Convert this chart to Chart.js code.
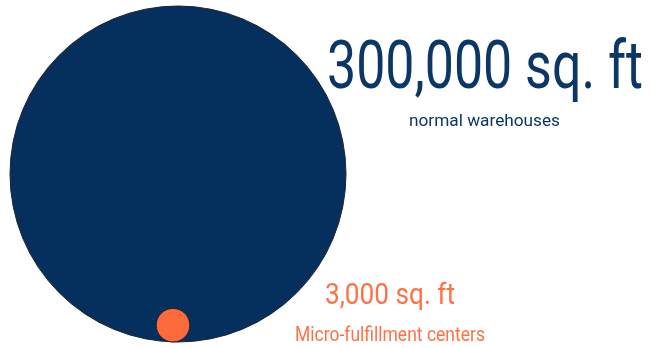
<!DOCTYPE html>
<html>
<head>
<meta charset="utf-8">
<script src="https://cdn.jsdelivr.net/npm/chart.js@4/dist/chart.umd.min.js"></script>
<style>
  html, body { margin: 0; padding: 0; background: #fff; }
  #wrap { width: 651px; height: 348px; position: relative; }
</style>
</head>
<body>
<div id="wrap"><canvas id="c"></canvas></div>
<script>
// facility sizes (square feet)
const categories = ['normal warehouses', 'Micro-fulfillment centers'];
const sizes = [300000, 3000];
const valueLabels = ['300,000 sq. ft', '3,000 sq. ft'];
const centersX = [178, 173];
const colors = ['#05305d', '#fd6a3c'];
const textColors = ['#0b3767', '#ff7145'];

// circle area proportional to size: radius = k * sqrt(size)
const bigRadius = 168;
const k = bigRadius / Math.sqrt(sizes[0]);
const baseLine = 342;   // both circles sit on the same bottom line

const points = sizes.map((s, i) => {
    const r = k * Math.sqrt(s);
    return { x: centersX[i], y: baseLine - r, r };
});

// draw text squeezed horizontally into a given width (condensed look)
function fitText(ctx, txt, x, y, size, width, color){
    ctx.save();
    ctx.font = `${size}px Roboto`;
    ctx.fillStyle = color;
    ctx.textBaseline = 'alphabetic';
    ctx.textAlign = 'left';
    const w = ctx.measureText(txt).width;
    ctx.translate(x, y);
    ctx.scale(width / w, 1);
    ctx.fillText(txt, 0, 0);
    ctx.restore();
}

const labelPlugin = {
    id: 'labels',
    afterDatasetsDraw(chart){
        const ctx = chart.ctx;
        fitText(ctx, valueLabels[0], 327, 88, 67, 316, textColors[0]);
        fitText(ctx, categories[0], 409, 126, 16, 151, textColors[0]);
        fitText(ctx, valueLabels[1], 325, 304, 29, 130, textColors[1]);
        fitText(ctx, categories[1], 295, 341, 20, 190, textColors[1]);
    }
};

new Chart(document.getElementById('c'), {
    type: 'bubble',
    data: {
        datasets: [{
            label: 'sizes',
            data: points,
            backgroundColor: colors,
            borderColor: '#1b2233',
            borderWidth: 1,
            hoverRadius: 0
        }]
    },
    options: {
        responsive: true,
        maintainAspectRatio: false,
        animation: false,
        events: [],
        layout: { padding: 0, autoPadding: false },
        scales: {
            x: { type: 'linear', min: 0, max: 651, display: false },
            y: { type: 'linear', min: 0, max: 348, reverse: true, display: false }
        },
        plugins: { legend: { display: false }, tooltip: { enabled: false } }
    },
    plugins: [labelPlugin]
});
</script>
</body>
</html>
